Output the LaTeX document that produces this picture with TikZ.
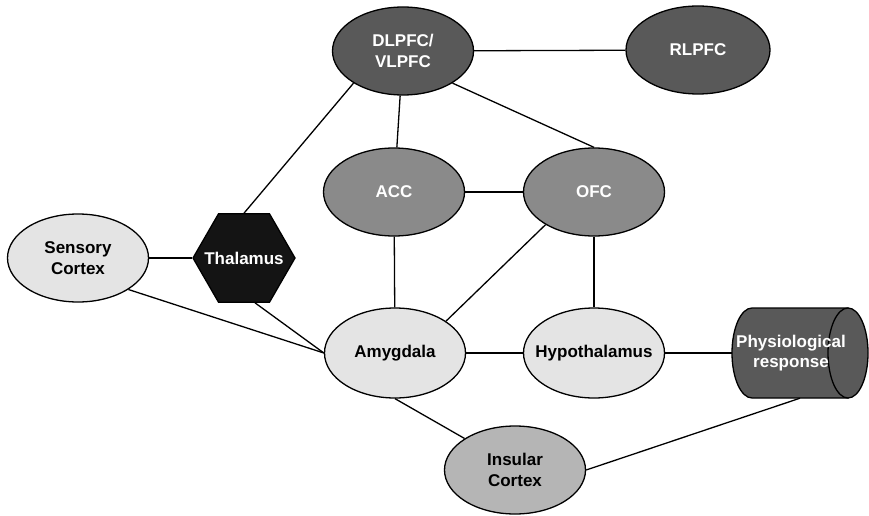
\documentclass[tikz,border=0pt]{standalone}
\usepackage{fontspec}
\setmainfont{Liberation Sans}
\usetikzlibrary{shapes.geometric,calc}
\definecolor{regdark}{HTML}{595959}
\definecolor{regmid}{HTML}{8A8A8A}
\definecolor{regins}{HTML}{B5B5B5}
\definecolor{reglight}{HTML}{E4E4E4}
\definecolor{regthal}{HTML}{141414}
\begin{document}
\begin{tikzpicture}[x=1pt,y=1pt,
  region/.style={ellipse,draw=black,line width=1.3pt,minimum width=141pt,minimum height=88pt,inner sep=0pt},
  darkreg/.style={region,fill=regdark},
  midreg/.style={region,fill=regmid},
  insreg/.style={region,fill=regins},
  lightreg/.style={region,fill=reglight},
  hexreg/.style={regular polygon,regular polygon sides=6,minimum size=102pt,inner sep=0pt,draw=black,line width=1.3pt,fill=regthal},
  lbl/.style={font=\fontsize{17}{20.5}\selectfont\bfseries,align=center,inner sep=0pt,text=black},
  lblw/.style={lbl,text=white},
  link/.style={draw=black,line width=1.3pt}]
\useasboundingbox (0,0) rectangle (869,515);
\fill[white] (0,0) rectangle (869,515);

% regions
\node[darkreg] (dl) at (403,464) {};
\node[darkreg,minimum width=144pt] (rl) at (698,465) {};
\node[midreg] (acc) at (394,323) {};
\node[midreg] (ofc) at (594,323) {};
\node[lightreg] (sc) at (78,257) {};
\node[hexreg] (th) at (244,257) {};
\node[lightreg,minimum height=90pt] (am) at (395,162) {};
\node[lightreg,minimum height=90pt] (hy) at (594,162) {};
\node[insreg] (ins) at (515,45) {};

% physiological response cylinder
\node[rectangle,minimum width=136pt,minimum height=90pt,inner sep=0pt] (pr) at (800,162) {};
\filldraw[fill=regdark,draw=black,line width=1.3pt]
  (848,207) -- (752,207) arc[start angle=90,end angle=270,x radius=20pt,y radius=45pt] -- (848,117) -- cycle;
\filldraw[fill=regdark,draw=black,line width=1.3pt] (848,162) ellipse [x radius=20pt,y radius=45pt];

% labels
\node[lblw] (dl-t) at (dl) {DLPFC/\\VLPFC};
\node[lblw] (rl-t) at (rl) {RLPFC};
\node[lblw] (acc-t) at (acc) {ACC};
\node[lblw] (ofc-t) at (ofc) {OFC};
\node[lbl] (sc-t) at (sc) {Sensory\\Cortex};
\node[lblw] (th-t) at (th) {Thalamus};
\node[lbl] (am-t) at (am) {Amygdala};
\node[lbl] (hy-t) at (hy) {Hypothalamus};
\node[lbl] (ins-t) at (ins) {Insular\\Cortex};
\node[lblw] (pr-t) at (791,162) {Physiological\\response};

% connections
\draw[link] (dl) -- (rl);
\draw[link] (th.north) -- (dl.213);
\draw[link] (dl) -- (acc);
\draw[link] (dl.327) -- (ofc.north);
\draw[link] (acc) -- (ofc);
\draw[link] (acc) -- (am);
\draw[link] (ofc) -- (hy);
\draw[link] (ofc.214) -- (am.32);
\draw[link] (am) -- (hy);
\draw[link] (hy) -- (pr.west);
\draw[link] (sc) -- (th);
\draw[link] (sc.328) -- (am.west);
\draw[link] ([xshift=11pt]th.south) -- (am.west);
\draw[link] (am.south) -- (ins.148);
\draw[link] (ins.east) -- (pr.south);
\end{tikzpicture}
\end{document}
